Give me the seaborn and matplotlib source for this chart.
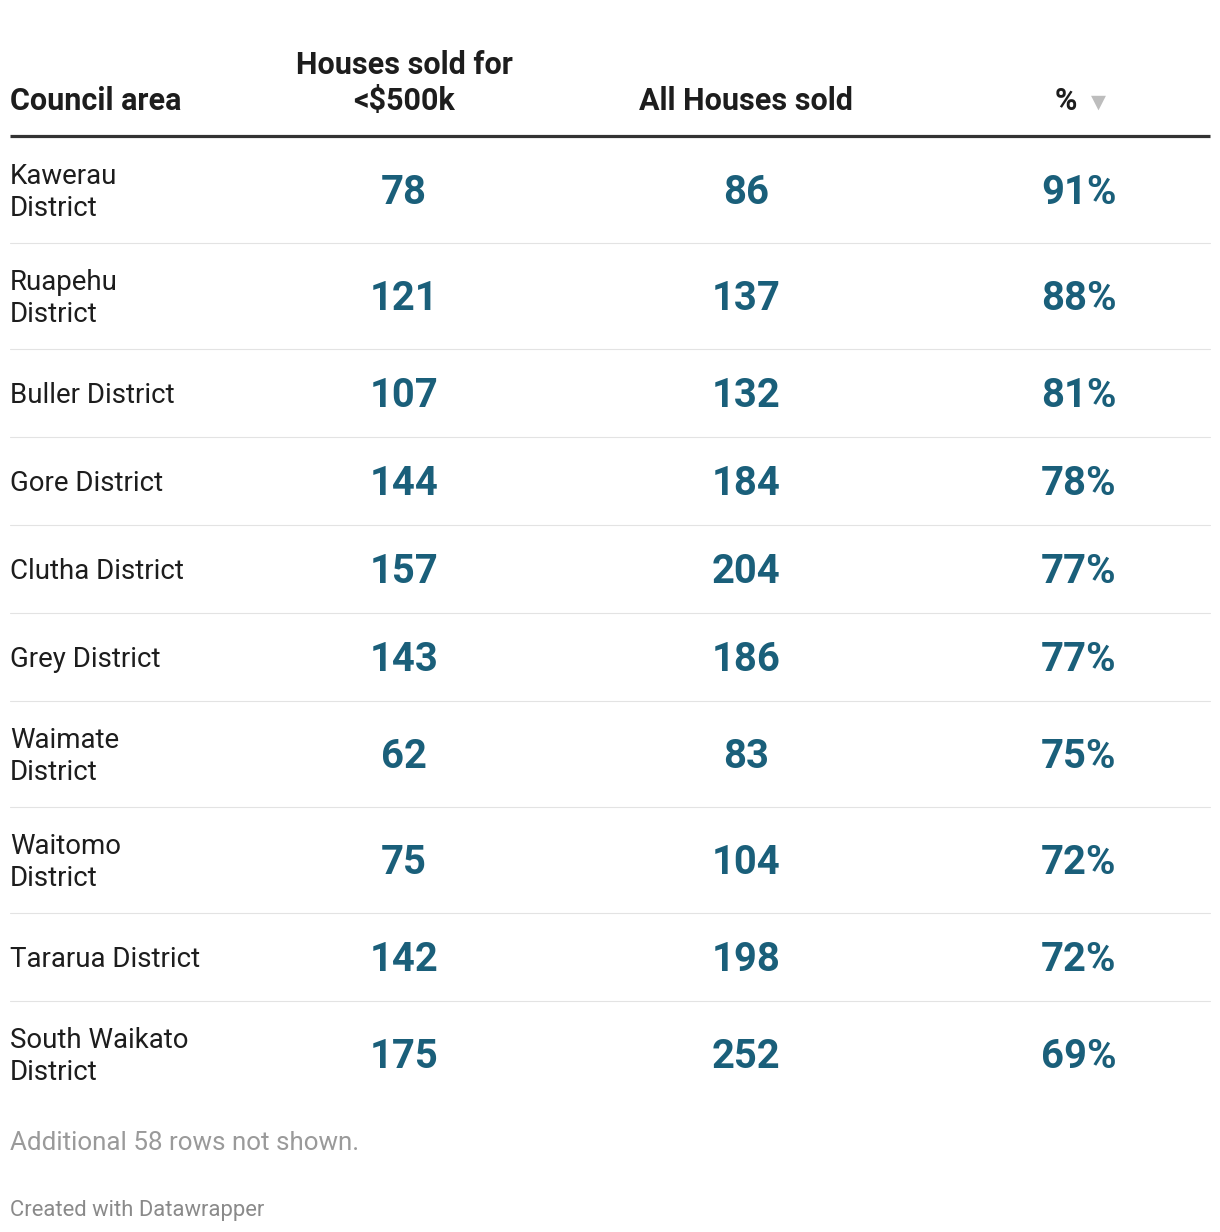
import matplotlib
matplotlib.use("Agg")
import matplotlib.pyplot as plt
import seaborn as sns

council = ["Kawerau\nDistrict", "Ruapehu\nDistrict", "Buller District", "Gore District",
           "Clutha District", "Grey District", "Waimate\nDistrict", "Waitomo\nDistrict",
           "Tararua District", "South Waikato\nDistrict"]
under_500k = [78, 121, 107, 144, 157, 143, 62, 75, 142, 175]
all_sold = [86, 137, 132, 184, 204, 186, 83, 104, 198, 252]
pct = [91, 88, 81, 78, 77, 77, 75, 72, 72, 69]

headers = ["Council area", "Houses sold for\n<$500k", "All Houses sold", "%"]
footnote = "Additional 58 rows not shown."
credit = "Created with Datawrapper"

sns.set_theme(style="white")
plt.rcParams['font.family'] = ['Roboto', 'DejaVu Sans']

W, H = 1220, 1232
fig = plt.figure(figsize=(W / 100, H / 100), dpi=100)
ax = fig.add_axes([0, 0, 1, 1])
ax.set_xlim(0, W)
ax.set_ylim(H, 0)
ax.axis("off")

num_col = "#1a5f7a"
txt_col = "#1d1d1d"
left, right = 10, 1210
col_x = [404, 746, 1079]
hfs = 22

# header
ax.text(left, 110, headers[0], fontsize=hfs, fontweight="bold", color=txt_col, va="baseline", ha="left")
h1 = headers[1].split("\n")
ax.text(col_x[0], 74, h1[0], fontsize=hfs, fontweight="bold", color=txt_col, va="baseline", ha="center")
ax.text(col_x[0], 110, h1[1], fontsize=hfs, fontweight="bold", color=txt_col, va="baseline", ha="center")
ax.text(col_x[1], 110, headers[2], fontsize=hfs, fontweight="bold", color=txt_col, va="baseline", ha="center")
ax.text(1066, 110, headers[3], fontsize=hfs, fontweight="bold", color=txt_col, va="baseline", ha="center")
ax.text(1098, 108, "▼", fontsize=14, color="#bdbdbd", va="baseline", ha="center",
        family=["DejaVu Sans"])
ax.plot([left, right], [135.5, 135.5], color="#333333", lw=2.3, solid_capstyle="butt")

# rows
y = 137
for i, name in enumerate(council):
    lines = name.split("\n")
    h = 88 + 18 * (len(lines) - 1)
    cy = y + h / 2
    first = cy + 10 - 16 * (len(lines) - 1)
    for k, ln in enumerate(lines):
        ax.text(left, first + 32 * k, ln, fontsize=19.9, color=txt_col, va="baseline", ha="left")
    vals = [str(under_500k[i]), str(all_sold[i]), f"{pct[i]}%"]
    for x, v in zip(col_x, vals):
        ax.text(x, cy + 14, v, fontsize=28.8, fontweight="bold", color=num_col, va="baseline", ha="center")
    y += h
    if i < len(council) - 1:
        ax.plot([left, right], [y, y], color="#e3e3e3", lw=0.8)

# footer
ax.text(left, 1150, footnote, fontsize=18.7, color="#9a9a9a", va="baseline", ha="left")
ax.text(left, 1216, credit, fontsize=15.8, color="#8a8a8a", va="baseline", ha="left")

fig.savefig("out.png", dpi=100, facecolor="white")
